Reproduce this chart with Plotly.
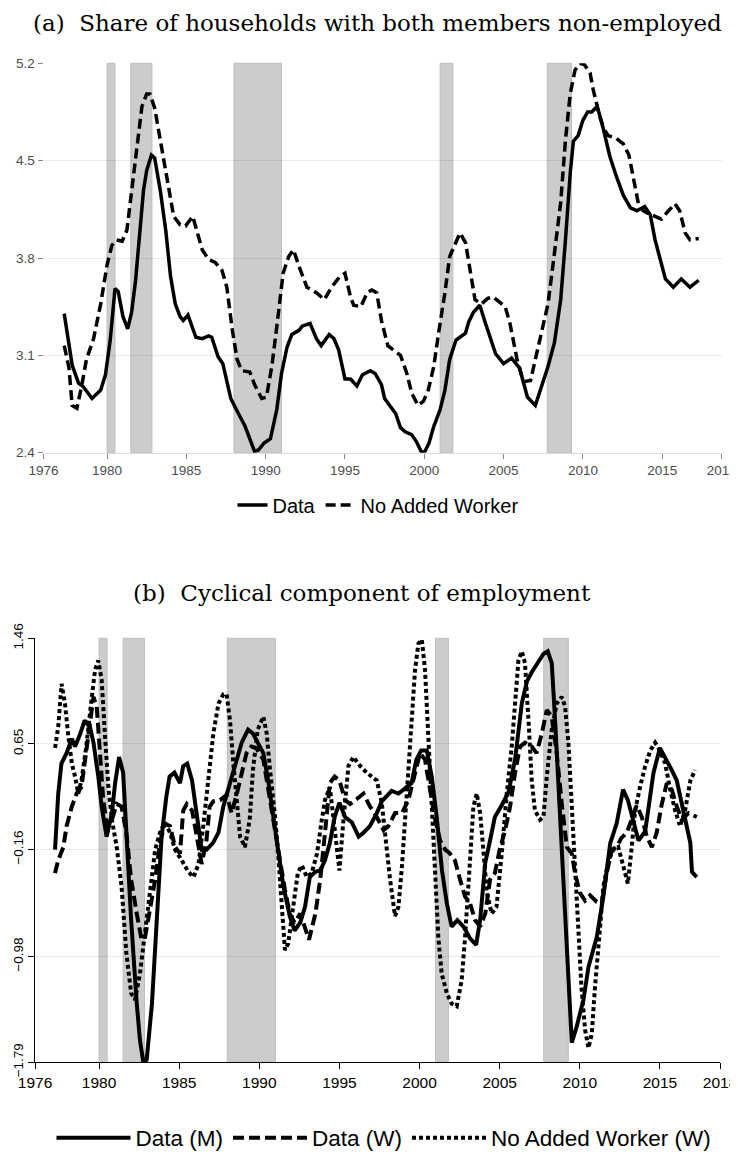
import plotly.graph_objects as go

# ---------------- data ----------------
# (a) share of households with both members non-employed
top_data = [(1977.3, 3.40), (1977.8, 3.03), (1978.2, 2.90), (1978.5, 2.875), (1979.05, 2.79), (1979.6, 2.85),
            (1979.9, 2.96), (1980.2, 3.21), (1980.5, 3.58), (1980.7, 3.56), (1981.0, 3.38), (1981.3, 3.29),
            (1981.55, 3.41), (1981.8, 3.64), (1982.3, 4.29), (1982.5, 4.43), (1982.8, 4.54), (1983.0, 4.52),
            (1983.35, 4.29), (1983.7, 4.00), (1984.0, 3.67), (1984.3, 3.47), (1984.6, 3.38), (1984.8, 3.35),
            (1985.1, 3.39), (1985.4, 3.29), (1985.6, 3.23), (1986.0, 3.22), (1986.4, 3.24), (1986.6, 3.23),
            (1987.0, 3.09), (1987.3, 3.04), (1987.8, 2.79), (1988.2, 2.70), (1988.7, 2.59), (1989.0, 2.50),
            (1989.3, 2.41), (1989.55, 2.42), (1989.9, 2.47), (1990.3, 2.50), (1990.7, 2.71), (1991.0, 2.97),
            (1991.35, 3.16), (1991.65, 3.25), (1992.1, 3.28), (1992.3, 3.31), (1992.8, 3.33), (1993.2, 3.22),
            (1993.5, 3.17), (1994.0, 3.25), (1994.3, 3.22), (1994.6, 3.14), (1995.0, 2.93), (1995.35, 2.93),
            (1995.75, 2.88), (1996.1, 2.96), (1996.6, 2.99), (1996.9, 2.97), (1997.3, 2.89), (1997.5, 2.79),
            (1997.8, 2.74), (1998.2, 2.68), (1998.5, 2.58), (1998.8, 2.55), (1999.2, 2.53), (1999.5, 2.48),
            (1999.8, 2.41), (2000.0, 2.40), (2000.3, 2.47), (2000.6, 2.59), (2001.0, 2.71), (2001.3, 2.85),
            (2001.6, 3.07), (2002.0, 3.21), (2002.6, 3.26), (2002.8, 3.34), (2003.1, 3.41), (2003.5, 3.46),
            (2003.8, 3.35), (2004.5, 3.11), (2005.0, 3.04), (2005.5, 3.08), (2006.0, 3.01), (2006.5, 2.80),
            (2007.0, 2.74), (2007.4, 2.88), (2007.8, 3.02), (2008.2, 3.19), (2008.6, 3.50), (2008.9, 3.93),
            (2009.2, 4.41), (2009.4, 4.64), (2009.7, 4.68), (2010.0, 4.79), (2010.3, 4.85), (2010.55, 4.85),
            (2010.9, 4.89), (2011.2, 4.77), (2011.7, 4.53), (2012.1, 4.39), (2012.55, 4.25), (2013.0, 4.16),
            (2013.4, 4.14), (2013.9, 4.17), (2014.25, 4.11), (2014.55, 3.93), (2014.85, 3.81), (2015.2, 3.65),
            (2015.7, 3.59), (2016.2, 3.65), (2016.75, 3.59), (2017.3, 3.64)]

top_naw = [(1977.3, 3.17), (1977.6, 3.01), (1977.8, 2.74), (1978.1, 2.72), (1978.4, 2.88), (1978.7, 3.07),
           (1979.15, 3.22), (1979.6, 3.47), (1980.0, 3.75), (1980.3, 3.89), (1980.6, 3.93), (1980.95, 3.92),
           (1981.25, 4.00), (1981.55, 4.29), (1981.9, 4.65), (1982.2, 4.89), (1982.5, 4.98), (1982.7, 4.98),
           (1983.0, 4.88), (1983.35, 4.65), (1983.8, 4.36), (1984.2, 4.10), (1984.6, 4.04), (1984.95, 4.03),
           (1985.4, 4.10), (1985.7, 3.98), (1986.0, 3.86), (1986.4, 3.79), (1986.8, 3.77), (1987.25, 3.71),
           (1987.55, 3.59), (1987.9, 3.28), (1988.2, 3.07), (1988.5, 2.99), (1989.0, 2.98), (1989.3, 2.89),
           (1989.75, 2.79), (1990.05, 2.80), (1990.4, 3.03), (1990.8, 3.40), (1991.1, 3.69), (1991.45, 3.81),
           (1991.75, 3.86), (1992.1, 3.74), (1992.6, 3.59), (1993.2, 3.55), (1993.7, 3.50), (1994.15, 3.59),
           (1994.7, 3.67), (1995.0, 3.69), (1995.35, 3.52), (1995.55, 3.46), (1996.0, 3.45), (1996.4, 3.55),
           (1996.7, 3.57), (1997.0, 3.55), (1997.3, 3.35), (1997.7, 3.17), (1998.05, 3.14), (1998.5, 3.10),
           (1998.9, 2.97), (1999.2, 2.83), (1999.6, 2.74), (1999.95, 2.77), (2000.25, 2.85), (2000.6, 3.02),
           (2000.9, 3.26), (2001.3, 3.55), (2001.6, 3.81), (2001.95, 3.91), (2002.25, 3.98), (2002.6, 3.91),
           (2002.9, 3.69), (2003.2, 3.50), (2003.6, 3.47), (2004.0, 3.51), (2004.35, 3.52), (2004.7, 3.49),
           (2005.1, 3.45), (2005.4, 3.33), (2005.85, 3.07), (2006.25, 2.91), (2006.7, 2.92), (2007.0, 3.07),
           (2007.4, 3.26), (2007.8, 3.47), (2008.2, 3.83), (2008.6, 4.20), (2008.9, 4.65), (2009.2, 4.98),
           (2009.5, 5.15), (2009.8, 5.20), (2010.1, 5.19), (2010.45, 5.13), (2010.65, 5.01), (2011.0, 4.84),
           (2011.3, 4.73), (2011.6, 4.68), (2012.1, 4.66), (2012.55, 4.62), (2012.9, 4.54), (2013.2, 4.36),
           (2013.5, 4.19), (2013.8, 4.14), (2014.1, 4.12), (2014.55, 4.10), (2014.95, 4.08), (2015.4, 4.14),
           (2015.8, 4.19), (2016.1, 4.14), (2016.45, 3.98), (2016.75, 3.93), (2017.3, 3.94)]

# (b) cyclical component of employment
bot_data_m = [(1977.25, -0.16), (1977.45, 0.27), (1977.65, 0.50), (1977.97, 0.58), (1978.3, 0.69), (1978.5, 0.63),
              (1978.8, 0.72), (1979.1, 0.83), (1979.43, 0.78), (1979.65, 0.66), (1979.95, 0.40), (1980.16, 0.17),
              (1980.47, -0.06), (1980.8, 0.12), (1981.0, 0.35), (1981.25, 0.55), (1981.5, 0.43), (1981.7, -0.03),
              (1982.0, -0.70), (1982.35, -1.34), (1982.55, -1.62), (1982.76, -1.79), (1982.97, -1.77), (1983.3, -1.34),
              (1983.6, -0.70), (1983.9, -0.06), (1984.2, 0.25), (1984.4, 0.40), (1984.7, 0.43), (1985.05, 0.35),
              (1985.25, 0.48), (1985.5, 0.50), (1985.8, 0.37), (1986.1, 0.09), (1986.4, -0.16), (1986.7, -0.16),
              (1987.1, -0.11), (1987.45, -0.03), (1987.75, 0.17), (1988.17, 0.35), (1988.6, 0.55), (1988.9, 0.66),
              (1989.3, 0.76), (1989.6, 0.73), (1989.9, 0.66), (1990.25, 0.58), (1990.55, 0.37), (1990.9, 0.09),
              (1991.2, -0.19), (1991.5, -0.44), (1991.9, -0.67), (1992.2, -0.78), (1992.55, -0.72), (1992.85, -0.60),
              (1993.15, -0.37), (1993.5, -0.33), (1993.8, -0.32), (1994.1, -0.24), (1994.4, -0.11), (1994.7, 0.09),
              (1995.0, 0.20), (1995.35, 0.09), (1995.77, 0.05), (1996.2, -0.06), (1996.5, -0.03), (1996.9, 0.02),
              (1997.33, 0.12), (1997.64, 0.21), (1998.26, 0.29), (1998.68, 0.27), (1999.1, 0.31), (1999.5, 0.35),
              (1999.8, 0.53), (2000.1, 0.60), (2000.45, 0.60), (2000.76, 0.40), (2001.07, 0.09), (2001.4, -0.32),
              (2001.7, -0.57), (2002.0, -0.75), (2002.36, -0.70), (2002.74, -0.75), (2003.15, -0.84), (2003.53, -0.89),
              (2003.78, -0.70), (2004.1, -0.26), (2004.4, -0.09), (2004.7, 0.09), (2005.13, 0.18), (2005.55, 0.28),
              (2005.96, 0.53), (2006.38, 0.96), (2006.7, 1.13), (2007.0, 1.20), (2007.42, 1.28), (2007.73, 1.34),
              (2008.0, 1.36), (2008.25, 1.27), (2008.46, 0.83), (2008.77, 0.07), (2009.08, -0.70), (2009.29, -1.26),
              (2009.5, -1.64), (2009.8, -1.52), (2010.23, -1.31), (2010.54, -1.06), (2011.06, -0.83), (2011.47, -0.52),
              (2011.9, -0.11), (2012.3, 0.04), (2012.7, 0.30), (2013.0, 0.22), (2013.35, 0.07), (2013.66, -0.09),
              (2014.08, -0.02), (2014.3, 0.17), (2014.6, 0.43), (2015.0, 0.62), (2015.33, 0.55), (2015.74, 0.45),
              (2016.05, 0.37), (2016.47, 0.14), (2016.9, -0.11), (2017.0, -0.33), (2017.3, -0.37)]

bot_data_w = [(1977.25, -0.34), (1977.45, -0.24), (1977.77, -0.14), (1977.97, 0.02), (1978.3, 0.17), (1978.6, 0.27),
              (1978.9, 0.32), (1979.1, 0.50), (1979.33, 0.73), (1979.65, 1.01), (1979.85, 0.94), (1980.05, 0.58),
              (1980.26, 0.22), (1980.5, 0.02), (1980.8, 0.07), (1981.1, 0.19), (1981.4, 0.17), (1981.7, -0.03),
              (1982.0, -0.39), (1982.35, -0.65), (1982.65, -0.85), (1982.87, -0.83), (1983.2, -0.62), (1983.5, -0.39),
              (1983.8, -0.11), (1984.1, 0.04), (1984.43, 0.02), (1984.74, -0.14), (1985.05, -0.19), (1985.25, 0.14),
              (1985.47, 0.19), (1985.8, 0.14), (1986.1, -0.06), (1986.4, -0.27), (1986.7, -0.09), (1986.9, 0.17),
              (1987.13, 0.21), (1987.55, 0.22), (1987.96, 0.26), (1988.27, 0.12), (1988.6, 0.27), (1988.9, 0.43),
              (1989.2, 0.58), (1989.5, 0.63), (1989.8, 0.62), (1990.25, 0.53), (1990.67, 0.22), (1991.0, -0.06),
              (1991.3, -0.27), (1991.6, -0.47), (1991.9, -0.65), (1992.2, -0.72), (1992.55, -0.65), (1992.85, -0.75),
              (1993.1, -0.85), (1993.5, -0.65), (1993.8, -0.39), (1994.1, -0.03), (1994.4, 0.35), (1994.7, 0.40),
              (1995.0, 0.37), (1995.35, 0.22), (1995.66, 0.19), (1996.1, 0.23), (1996.5, 0.27), (1996.91, 0.17),
              (1997.33, 0.09), (1997.75, -0.01), (1998.05, 0.02), (1998.47, 0.12), (1998.9, 0.12), (1999.3, 0.22),
              (1999.72, 0.43), (2000.03, 0.58), (2000.34, 0.53), (2000.66, 0.30), (2000.97, 0.07), (2001.28, -0.09),
              (2001.6, -0.16), (2001.9, -0.19), (2002.2, -0.24), (2002.53, -0.39), (2002.84, -0.52), (2003.15, -0.57),
              (2003.46, -0.70), (2003.78, -0.75), (2004.1, -0.65), (2004.4, -0.39), (2004.7, -0.34), (2005.0, -0.16),
              (2005.34, -0.01), (2005.65, 0.17), (2005.96, 0.43), (2006.27, 0.63), (2006.58, 0.66), (2007.0, 0.63),
              (2007.3, 0.58), (2007.63, 0.73), (2007.94, 0.91), (2008.25, 0.86), (2008.56, 0.58), (2008.87, 0.20),
              (2009.19, -0.14), (2009.5, -0.19), (2009.7, -0.34), (2010.0, -0.49), (2010.33, -0.55), (2010.64, -0.51),
              (2011.06, -0.56), (2011.37, -0.57), (2011.68, -0.34), (2012.0, -0.16), (2012.3, -0.14), (2012.6, -0.07),
              (2012.93, -0.03), (2013.24, 0.07), (2013.55, 0.18), (2013.87, 0.09), (2014.18, -0.06), (2014.5, -0.14),
              (2014.8, -0.03), (2015.1, 0.18), (2015.43, 0.35), (2015.74, 0.30), (2016.05, 0.17), (2016.37, 0.07),
              (2016.78, 0.12), (2017.3, 0.09)]

bot_naw_w = [(1977.25, 0.62), (1977.45, 0.78), (1977.66, 1.11), (1977.87, 0.96), (1978.08, 0.71), (1978.3, 0.50),
             (1978.5, 0.40), (1978.7, 0.27), (1978.9, 0.37), (1979.2, 0.63), (1979.5, 0.96), (1979.75, 1.22),
             (1979.95, 1.29), (1980.16, 1.14), (1980.37, 0.71), (1980.58, 0.32), (1980.8, 0.07), (1981.1, -0.14),
             (1981.4, -0.44), (1981.7, -0.95), (1982.0, -1.26), (1982.24, -1.31), (1982.55, -1.11), (1982.87, -0.80),
             (1983.2, -0.44), (1983.5, -0.16), (1983.8, -0.03), (1984.1, 0.05), (1984.43, -0.03), (1984.74, -0.16),
             (1985.15, -0.24), (1985.57, -0.33), (1985.9, -0.37), (1986.2, -0.27), (1986.5, 0.02), (1986.8, 0.37),
             (1987.13, 0.73), (1987.45, 0.96), (1987.75, 1.03), (1987.96, 1.03), (1988.17, 0.83), (1988.38, 0.50),
             (1988.6, 0.17), (1988.8, -0.06), (1989.1, -0.14), (1989.4, 0.07), (1989.6, 0.45), (1989.9, 0.76),
             (1990.25, 0.86), (1990.46, 0.73), (1990.67, 0.45), (1991.0, 0.07), (1991.2, -0.24), (1991.4, -0.60),
             (1991.6, -0.93), (1991.8, -0.88), (1992.1, -0.60), (1992.4, -0.34), (1992.65, -0.28), (1992.96, -0.37),
             (1993.27, -0.34), (1993.6, -0.19), (1993.9, 0.07), (1994.1, 0.22), (1994.4, 0.32), (1994.7, 0.02),
             (1995.0, -0.32), (1995.25, 0.07), (1995.56, 0.48), (1995.87, 0.55), (1996.3, 0.48), (1996.7, 0.43),
             (1997.33, 0.37), (1997.64, 0.20), (1997.85, -0.06), (1998.16, -0.39), (1998.47, -0.67), (1998.68, -0.60),
             (1998.9, -0.29), (1999.1, 0.07), (1999.3, 0.45), (1999.5, 0.83), (1999.72, 1.22), (1999.93, 1.42),
             (2000.14, 1.45), (2000.34, 1.22), (2000.55, 0.71), (2000.76, 0.20), (2000.97, -0.32), (2001.17, -0.83),
             (2001.38, -1.11), (2001.7, -1.26), (2002.0, -1.34), (2002.32, -1.36), (2002.63, -1.16), (2002.84, -0.83),
             (2003.15, -0.24), (2003.36, 0.17), (2003.57, 0.27), (2003.78, 0.12), (2004.0, -0.19), (2004.2, -0.49),
             (2004.5, -0.65), (2004.8, -0.60), (2005.13, -0.19), (2005.44, 0.27), (2005.75, 0.63), (2005.96, 0.96),
             (2006.17, 1.29), (2006.38, 1.36), (2006.58, 1.27), (2006.8, 0.83), (2007.0, 0.37), (2007.2, 0.14),
             (2007.52, 0.07), (2007.73, 0.09), (2007.94, 0.40), (2008.25, 0.76), (2008.56, 0.96), (2008.87, 1.01),
             (2009.08, 0.94), (2009.29, 0.66), (2009.5, 0.20), (2009.7, -0.24), (2009.9, -0.70), (2010.1, -1.21),
             (2010.33, -1.54), (2010.54, -1.68), (2010.75, -1.57), (2010.95, -1.21), (2011.27, -0.75), (2011.47, -0.44),
             (2011.8, -0.24), (2012.1, -0.16), (2012.4, -0.14), (2012.7, -0.27), (2013.0, -0.42), (2013.24, -0.14),
             (2013.45, 0.14), (2013.76, 0.32), (2014.08, 0.48), (2014.4, 0.60), (2014.7, 0.66), (2015.0, 0.60),
             (2015.33, 0.50), (2015.64, 0.30), (2015.95, 0.14), (2016.26, 0.02), (2016.57, 0.14), (2016.9, 0.37),
             (2017.2, 0.45)]

recessions = [(1980.0, 1980.5), (1981.5, 1982.83), (1988.0, 1991.0), (2001.0, 2001.8), (2007.75, 2009.28)]

x_tick_vals = [1976, 1980, 1985, 1990, 1995, 2000, 2005, 2010, 2015, 2018.75]
x_tick_text = ["1976", "1980", "1985", "1990", "1995", "2000", "2005", "2010", "2015", "2018"]
top_y_ticks = [2.4, 3.1, 3.8, 4.5, 5.2]
bot_y_ticks = [-1.79, -0.98, -0.16, 0.65, 1.46]
bot_y_text = ["\u22121.79", "\u22120.98", "\u22120.16", "0.65", "1.46"]

title_a = "(a)  Share of households with both members non-employed"
title_b = "(b)  Cyclical component of employment"

# ---------------- figure ----------------
# the page body adds an 8px margin, so the figure is 8px smaller than the window
OFF = 8
W, H = 738 - OFF, 1162 - OFF


def px(xr):
    return (xr - OFF) / W


def py(yr):
    return 1 - (yr - OFF) / H


fig = go.Figure()


def xy(pairs):
    return [p[0] for p in pairs], [p[1] for p in pairs]


x, y = xy(top_data)
fig.add_trace(go.Scatter(x=x, y=y, mode="lines", name="Data", xaxis="x", yaxis="y", legend="legend",
                         line=dict(color="black", width=3.5)))
x, y = xy(top_naw)
fig.add_trace(go.Scatter(x=x, y=y, mode="lines", name="No Added Worker", xaxis="x", yaxis="y", legend="legend",
                         line=dict(color="black", width=3.5, dash="10px,5px")))

x, y = xy(bot_data_m)
fig.add_trace(go.Scatter(x=x, y=y, mode="lines", name="Data (M)", xaxis="x2", yaxis="y2", legend="legend2",
                         line=dict(color="black", width=4)))
x, y = xy(bot_data_w)
fig.add_trace(go.Scatter(x=x, y=y, mode="lines", name="Data (W)", xaxis="x2", yaxis="y2", legend="legend2",
                         line=dict(color="black", width=4, dash="11px,5px")))
x, y = xy(bot_naw_w)
fig.add_trace(go.Scatter(x=x, y=y, mode="lines", name="No Added Worker (W)", xaxis="x2", yaxis="y2",
                         legend="legend2", line=dict(color="black", width=4, dash="4px,3px")))

shapes = []
for xr, yr in (("x", "y domain"), ("x2", "y2 domain")):
    for a, b in recessions:
        shapes.append(dict(type="rect", xref=xr, yref=yr, x0=a, x1=b, y0=0, y1=1,
                           fillcolor="#cccccc", line=dict(color="#bdbdbd", width=1), layer="below"))

sans = "Liberation Sans, Arial, sans-serif"
serif = "DejaVu Serif, serif"
grid = "rgba(0,0,0,0.08)"

fig.update_layout(
    template="none",
    width=W, height=H, margin=dict(l=0, r=0, t=0, b=0, autoexpand=False),
    paper_bgcolor="white", plot_bgcolor="rgba(0,0,0,0)",
    font=dict(family=sans, color="black"),
    shapes=shapes,
    xaxis=dict(domain=[px(43.6), px(721.7)], anchor="y", range=[1976, 2018.75], automargin=False,
               tickvals=x_tick_vals, ticktext=x_tick_text, showgrid=False, zeroline=False,
               showline=True, linecolor="#dcdcdc", linewidth=1, ticklabeloverflow="allow",
               ticks="outside", ticklen=5, tickcolor="#8a8a8a", tickwidth=1,
               tickfont=dict(family=sans, size=13.5, color="#4d4d4d")),
    yaxis=dict(domain=[py(452.7), py(63.3)], anchor="x", range=[2.4, 5.2], automargin=False,
               tickvals=top_y_ticks, ticktext=[f"{v:.1f}" for v in top_y_ticks],
               showgrid=True, gridcolor=grid, gridwidth=1, zeroline=False, showline=False,
               ticks="outside", ticklen=5, tickcolor="#8a8a8a", tickwidth=1,
               tickfont=dict(family=sans, size=13.5, color="#4d4d4d")),
    xaxis2=dict(domain=[px(35), px(720)], anchor="y2", range=[1976, 2018.75], automargin=False,
                tickvals=x_tick_vals, ticktext=x_tick_text, showgrid=False, zeroline=False,
                showline=True, linecolor="black", linewidth=1, ticklabeloverflow="allow",
                ticks="outside", ticklen=6, tickcolor="black", tickwidth=1,
                tickfont=dict(family=sans, size=15.5, color="black")),
    yaxis2=dict(domain=[py(1062.3), py(638.3)], anchor="x2", range=[-1.79, 1.46], automargin=False,
                tickvals=bot_y_ticks, ticktext=bot_y_text, tickangle=-90,
                showgrid=True, gridcolor=grid, gridwidth=1, zeroline=False,
                showline=True, linecolor="black", linewidth=1,
                ticks="outside", ticklen=6, tickcolor="black", tickwidth=1,
                tickfont=dict(family=sans, size=13.5, color="black")),
    legend=dict(orientation="h", x=px(378), xanchor="center", y=py(505), yanchor="middle",
                font=dict(family=sans, size=20, color="black"), bgcolor="rgba(0,0,0,0)"),
    legend2=dict(orientation="h", x=px(384), xanchor="center", y=py(1138), yanchor="middle",
                 itemwidth=74,
                 font=dict(family=sans, size=22.5, color="black"),
                 bgcolor="rgba(0,0,0,0)"),
    annotations=[
        dict(text=title_a, xref="paper", yref="paper", x=px(377), y=py(8.5), xanchor="center",
             yanchor="top", showarrow=False, borderpad=0, font=dict(family=serif, size=23, color="black")),
        dict(text=title_b, xref="paper", yref="paper", x=px(362), y=py(593), xanchor="center",
             yanchor="middle", showarrow=False, font=dict(family=serif, size=23, color="black")),
    ],
)

fig.write_html("out.html")
